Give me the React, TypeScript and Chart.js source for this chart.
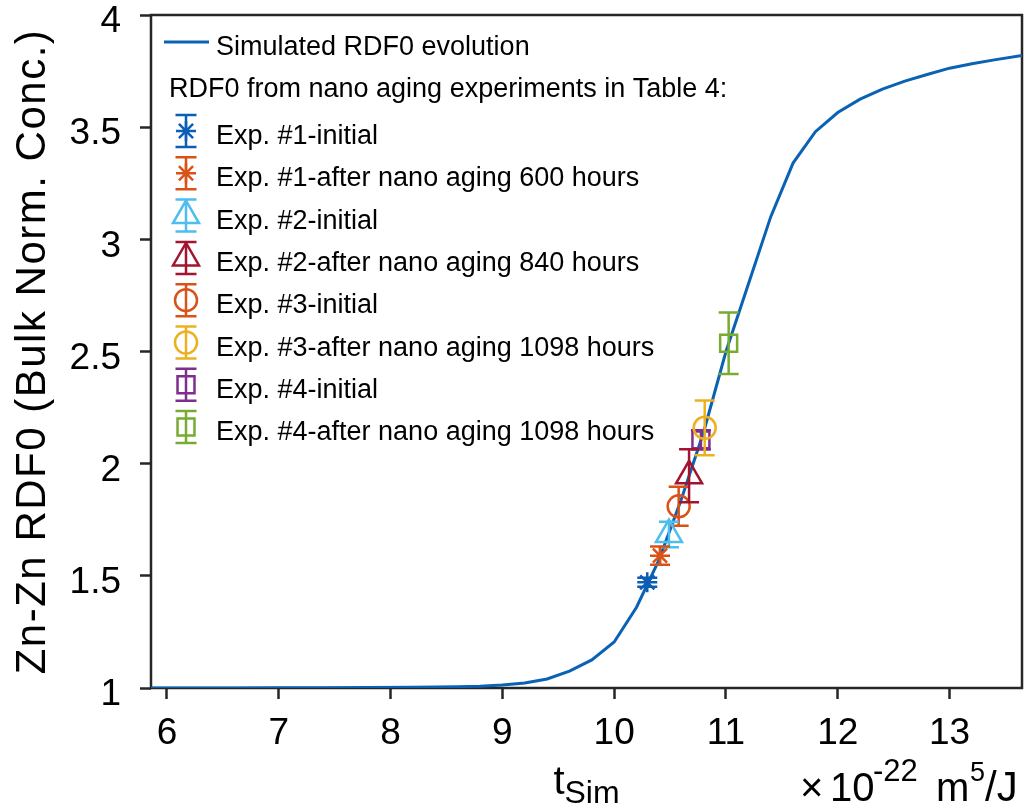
import React, { useEffect, useRef } from "react";
import { Chart, registerables } from "chart.js";

Chart.register(...registerables);

// ---- data ----
const simX = [5.85, 6.2, 6.6, 7.0, 7.4, 7.8, 8.2, 8.4, 8.6, 8.8, 9.0, 9.2, 9.4, 9.6, 9.8, 10.0, 10.2, 10.4, 10.6, 10.8, 11.0, 11.2, 11.4, 11.6, 11.8, 12.0, 12.2, 12.4, 12.6, 12.8, 13.0, 13.2, 13.4, 13.65];
const simY = [1.0, 1.0, 1.0, 1.001, 1.001, 1.002, 1.003, 1.004, 1.006, 1.008, 1.013, 1.022, 1.04, 1.075, 1.125, 1.205, 1.36, 1.57, 1.84, 2.14, 2.5, 2.8, 3.1, 3.34, 3.48, 3.565, 3.625, 3.67, 3.705, 3.735, 3.763, 3.783, 3.8, 3.82];

const expLabels = [
  "Exp. #1-initial",
  "Exp. #1-after nano aging 600 hours",
  "Exp. #2-initial",
  "Exp. #2-after nano aging 840 hours",
  "Exp. #3-initial",
  "Exp. #3-after nano aging 1098 hours",
  "Exp. #4-initial",
  "Exp. #4-after nano aging 1098 hours",
];
const expX = [10.296, 10.41, 10.49, 10.67, 10.577, 10.81, 10.776, 11.024];
const expY = [1.471, 1.59, 1.684, 1.946, 1.81, 2.16, 2.106, 2.537];
const expErr = [0.02, 0.041, 0.057, 0.118, 0.087, 0.122, 0.043, 0.137];
const expColors = ["#0a5fb4", "#D95319", "#4DBEEE", "#A2142F", "#D95319", "#EDB120", "#7E2F8E", "#77AC30"];
const expMarkers = ["star", "star", "triangle", "triangle", "circle", "circle", "rect", "rect"];
const expRadius = [10, 10, 15, 15, 11, 11, 12, 12];

const curveLabel = "Simulated RDF0 evolution";
const curveColor = "#0a62b4";
const legendHeading = "RDF0 from nano aging experiments in Table 4:";
const yTitle = "Zn-Zn RDF0 (Bulk Norm. Conc.)";

const xTicks = [6, 7, 8, 9, 10, 11, 12, 13];
const xTickLabels = ["6", "7", "8", "9", "10", "11", "12", "13"];
const yTicks = [1, 1.5, 2, 2.5, 3, 3.5, 4];
const yTickLabels = ["1", "1.5", "2", "2.5", "3", "3.5", "4"];
const xMin = 5.857;
const xMax = 13.648;
const yMin = 1;
const yMax = 4;

const FONT = '"Liberation Sans", Arial, Helvetica, sans-serif';
const AXIS_COLOR = "#262626";

function drawMarker(ctx: CanvasRenderingContext2D, style: string, x: number, y: number, r: number) {
  ctx.beginPath();
  if (style === "circle") {
    ctx.arc(x, y, r, 0, Math.PI * 2);
  } else if (style === "rect") {
    const s = r * Math.SQRT1_2;
    ctx.rect(x - s, y - s, 2 * s, 2 * s);
  } else if (style === "triangle") {
    ctx.moveTo(x, y - r);
    ctx.lineTo(x + r * Math.sin((2 * Math.PI) / 3), y - r * Math.cos((2 * Math.PI) / 3));
    ctx.lineTo(x + r * Math.sin((4 * Math.PI) / 3), y - r * Math.cos((4 * Math.PI) / 3));
    ctx.closePath();
  } else if (style === "star") {
    const d = r * Math.SQRT1_2;
    ctx.moveTo(x - r, y);
    ctx.lineTo(x + r, y);
    ctx.moveTo(x, y - r);
    ctx.lineTo(x, y + r);
    ctx.moveTo(x - d, y - d);
    ctx.lineTo(x + d, y + d);
    ctx.moveTo(x + d, y - d);
    ctx.lineTo(x - d, y + d);
  }
  ctx.stroke();
}

function drawErrorBar(ctx: CanvasRenderingContext2D, x: number, yTop: number, yBot: number, cap: number) {
  ctx.beginPath();
  ctx.moveTo(x, yTop);
  ctx.lineTo(x, yBot);
  ctx.moveTo(x - cap, yTop);
  ctx.lineTo(x + cap, yTop);
  ctx.moveTo(x - cap, yBot);
  ctx.lineTo(x + cap, yBot);
  ctx.stroke();
}

const customPlugin = {
  id: "customDecor",
  beforeDatasetsDraw(chart: any) {
    const { ctx, chartArea } = chart;
    ctx.save();
    ctx.strokeStyle = AXIS_COLOR;
    ctx.lineWidth = 2.5;
    ctx.strokeRect(chartArea.left, chartArea.top, chartArea.right - chartArea.left, chartArea.bottom - chartArea.top);
    ctx.restore();
  },
  afterDatasetDraw(chart: any, args: any) {
    const idx = args.index;
    if (idx < 1) return;
    const e = idx - 1;
    const { ctx } = chart;
    const xs = chart.scales.x;
    const ys = chart.scales.y;
    ctx.save();
    ctx.strokeStyle = expColors[e];
    ctx.lineWidth = 2.5;
    const px = xs.getPixelForValue(expX[e]);
    drawErrorBar(ctx, px, ys.getPixelForValue(expY[e] + expErr[e]), ys.getPixelForValue(expY[e] - expErr[e]), 10);
    ctx.restore();
  },
  afterDraw(chart: any) {
    const { ctx, chartArea } = chart;
    ctx.save();
    ctx.fillStyle = "#000";
    // legend
    ctx.strokeStyle = curveColor;
    ctx.lineWidth = 3;
    ctx.beginPath();
    ctx.moveTo(164, 42);
    ctx.lineTo(209, 42);
    ctx.stroke();
    ctx.font = `27px ${FONT}`;
    ctx.textAlign = "left";
    ctx.textBaseline = "alphabetic";
    ctx.fillText(curveLabel, 216, 55);
    ctx.fillText(legendHeading, 169, 97);
    for (let i = 0; i < expLabels.length; i++) {
      const base = 144 + 42.3 * i;
      const cy = base - 13;
      ctx.fillStyle = "#000";
      ctx.fillText(expLabels[i], 216, base);
      ctx.strokeStyle = expColors[i];
      ctx.lineWidth = 2.5;
      drawErrorBar(ctx, 186, cy - 16, cy + 16, 10.5);
      drawMarker(ctx, expMarkers[i], 186, cy, expRadius[i]);
    }

    // y title
    ctx.fillStyle = "#000";
    ctx.save();
    ctx.translate(45, (chartArea.top + chartArea.bottom) / 2);
    ctx.rotate(-Math.PI / 2);
    ctx.font = `42px ${FONT}`;
    try {
      (ctx as any).letterSpacing = "1.5px";
    } catch (e) {}
    ctx.textAlign = "center";
    ctx.fillText(yTitle, 0, 0);
    ctx.restore();

    // x title: t_Sim
    ctx.textAlign = "left";
    ctx.font = `40px ${FONT}`;
    const wT = ctx.measureText("t").width;
    ctx.font = `32px ${FONT}`;
    const wS = ctx.measureText("Sim").width;
    const cx = (chartArea.left + chartArea.right) / 2;
    const sx = cx - (wT + wS) / 2;
    ctx.font = `40px ${FONT}`;
    ctx.fillText("t", sx, 794);
    ctx.font = `32px ${FONT}`;
    ctx.fillText("Sim", sx + wT, 803);

    // exponent label (positions relative to the right edge of the axes)
    const r = chartArea.right;
    const parts = [
      { t: "\u00d7", s: 40, b: 801, dx: -222 },
      { t: "10", s: 40, b: 801, dx: -192 },
      { t: "-22", s: 31, b: 781, dx: -149 },
      { t: "m", s: 40, b: 801, dx: -86 },
      { t: "5", s: 27, b: 781, dx: -52 },
      { t: "/J", s: 42, b: 801, dx: -37 },
    ];
    parts.forEach((p) => {
      ctx.font = `${p.s}px ${FONT}`;
      ctx.fillText(p.t, r + p.dx, p.b);
    });
    ctx.restore();
  },
};

export default function App() {
  const ref = useRef<HTMLCanvasElement | null>(null);
  useEffect(() => {
    if (!ref.current) return;
    const datasets: any[] = [
      {
        type: "line",
        label: curveLabel,
        data: simX.map((x, i) => ({ x, y: simY[i] })),
        borderColor: curveColor,
        backgroundColor: curveColor,
        borderWidth: 3,
        pointRadius: 0,
        showLine: true,
        fill: false,
        tension: 0,
        order: 1,
      },
    ];
    expLabels.forEach((lab, i) => {
      datasets.push({
        type: "scatter",
        label: lab,
        data: [{ x: expX[i], y: expY[i] }],
        borderColor: expColors[i],
        backgroundColor: "rgba(0,0,0,0)",
        pointStyle: expMarkers[i],
        pointRadius: expRadius[i],
        pointBorderWidth: 2.5,
        borderWidth: 2.5,
        order: 0,
        clip: false,
      });
    });
    const chart = new Chart(ref.current, {
      type: "scatter",
      data: { datasets },
      plugins: [customPlugin],
      options: {
        animation: false,
        responsive: false,
        devicePixelRatio: 1,
        layout: { autoPadding: false, padding: { top: 15, right: 6, left: 0, bottom: 0 } },
        plugins: { legend: { display: false }, tooltip: { enabled: false }, title: { display: false } },
        events: [],
        scales: {
          x: {
            type: "linear",
            min: xMin,
            max: xMax,
            border: { display: false },
            grid: { drawOnChartArea: false, drawTicks: true, tickLength: 11, tickWidth: 2.5, tickColor: AXIS_COLOR },
            ticks: {
              autoSkip: false,
              maxRotation: 0,
              padding: 13,
              color: "#000",
              font: { family: FONT, size: 37 },
              callback: (_v: any, i: number) => xTickLabels[i],
            },
            afterBuildTicks: (s: any) => {
              s.ticks = xTicks.map((v) => ({ value: v }));
            },
            afterFit: (s: any) => {
              s.height = 122;
              s.paddingLeft = 0;
              s.paddingRight = 0;
            },
          },
          y: {
            type: "linear",
            min: yMin,
            max: yMax,
            border: { display: false },
            grid: { drawOnChartArea: false, drawTicks: true, tickLength: 11, tickWidth: 2.5, tickColor: AXIS_COLOR },
            ticks: {
              autoSkip: false,
              padding: 19,
              labelOffset: 7,
              color: "#000",
              font: { family: FONT, size: 37 },
              callback: (_v: any, i: number) => yTickLabels[i],
            },
            afterBuildTicks: (s: any) => {
              s.ticks = yTicks.map((v) => ({ value: v }));
            },
            afterFit: (s: any) => {
              s.width = 151;
              s.paddingTop = 0;
              s.paddingBottom = 0;
            },
          },
        },
      } as any,
    });
    return () => chart.destroy();
  }, []);
  return (
    <div style={{ position: "absolute", left: 0, top: 0, width: 1028, height: 810, background: "#fff" }}>
      <canvas ref={ref} width={1028} height={810} style={{ width: 1028, height: 810, display: "block" }} />
    </div>
  );
}
